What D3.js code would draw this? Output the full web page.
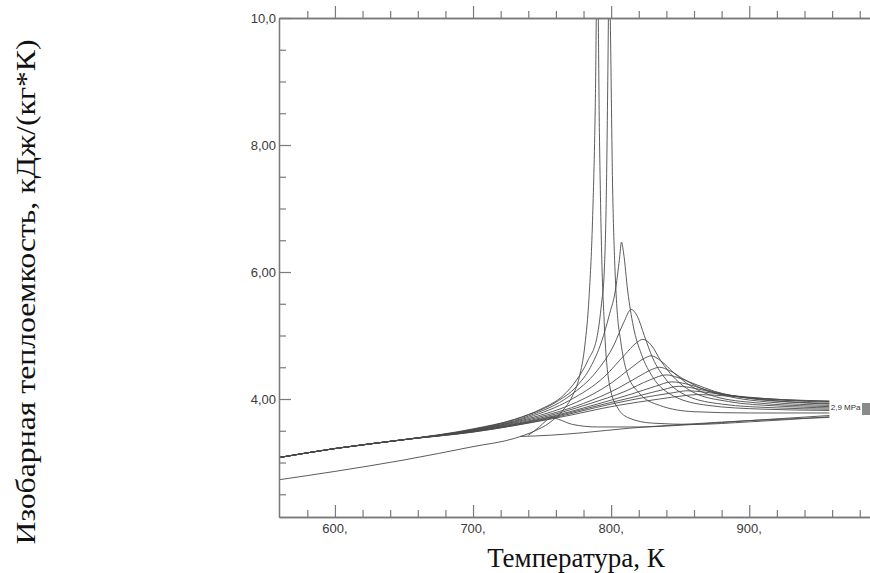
<!DOCTYPE html>
<html>
<head>
<meta charset="utf-8">
<script src="https://cdn.jsdelivr.net/npm/d3@7"></script>
<style>
  body { margin: 0; background: #fff; }
  .ticklabel { font-family: "Liberation Sans", Arial, sans-serif; font-size: 13px; fill: #3a3a3a; }
  .axistitle { font-family: "Liberation Serif", "Times New Roman", serif; font-size: 27px; fill: #111; }
  .curve { fill: none; stroke: #4a4a4a; stroke-width: 0.9px; }
</style>
</head>
<body>
<div id="chart"></div>
<script>
// axis ticks
const xMajor = [600, 700, 800, 900];
const xMajorLabels = ["600,", "700,", "800,", "900,"];
const yMajor = [4, 6, 8, 10];
const yMajorLabels = ["4,00", "6,00", "8,00", "10,0"];

// isobars: [T, K ; Cp, kJ/(kg*K)]
const curveLow = [[560,2.73],[600,2.86],[650,3.04],[700,3.25],[730,3.38],[745,3.5],[755,3.62],[765,3.82],[772,4.05],[777,4.35],[781,4.85],[784,5.6],[786.5,6.8],[788.5,8.6],[790,11],[791.5,8.2],[793,6.4],[795,5.2],[799,4.2],[805,3.85],[813,3.7],[830,3.62],[860,3.6],[900,3.64],[958,3.72]];
const curveFlat = [[734,3.41],[756,3.43],[780,3.47],[813,3.54],[860,3.61],[900,3.66],[958,3.71]];
const curveBump = [[740,3.43],[748,3.56],[753,3.66],[757,3.71],[762,3.68],[772,3.6],[790,3.56],[820,3.56],[860,3.6],[900,3.66],[958,3.74]];
const curve1 = [[560,3.08],[600,3.22],[650,3.36],[700,3.53],[730,3.68],[750,3.85],[765,4.05],[775,4.3],[783,4.6],[790,5.0],[793,5.5],[795,6.0],[796.5,7.2],[797.8,9.5],[798.5,11],[799.5,9.8],[801,7.4],[802.5,6.2],[804,5.5],[807,4.9],[811,4.45],[820,4.1],[835,3.9],[860,3.8],[900,3.78],[958,3.78]];
const curve2 = [[560,3.08],[600,3.22],[650,3.36],[700,3.52],[740,3.75],[760,3.95],[775,4.2],[785,4.5],[793,4.9],[799,5.35],[803,5.7],[806,6.2],[807.5,6.47],[809,6.3],[812,5.7],[816,5.15],[822,4.7],[830,4.35],[845,4.05],[870,3.9],[910,3.84],[958,3.82]];
const curve3 = [[560,3.08],[600,3.22],[650,3.36],[700,3.52],[740,3.73],[770,4.05],[790,4.45],[802,4.85],[809,5.2],[814.5,5.41],[819,5.3],[824,5.0],[830,4.65],[840,4.3],[855,4.05],[880,3.92],[920,3.86],[958,3.84]];
const curve4 = [[560,3.08],[600,3.22],[650,3.36],[700,3.51],[740,3.71],[770,3.98],[795,4.35],[810,4.7],[818,4.88],[823,4.94],[829,4.85],[836,4.6],[845,4.35],[860,4.1],[885,3.96],[920,3.89],[958,3.86]];
const curve5 = [[560,3.08],[600,3.22],[650,3.36],[700,3.51],[740,3.69],[775,3.95],[800,4.25],[815,4.5],[824,4.64],[829,4.68],[836,4.6],[845,4.42],[858,4.2],[875,4.04],[905,3.94],[958,3.88]];
const curve6 = [[560,3.08],[600,3.22],[650,3.36],[700,3.5],[745,3.7],[780,3.93],[805,4.17],[822,4.38],[830,4.47],[835,4.5],[842,4.45],[852,4.32],[865,4.17],[885,4.04],[915,3.95],[958,3.9]];
const curve7 = [[560,3.08],[600,3.22],[650,3.36],[700,3.5],[745,3.68],[785,3.93],[810,4.12],[828,4.3],[840,4.38],[848,4.34],[860,4.24],[875,4.12],[900,4.01],[930,3.95],[958,3.92]];
const curve8 = [[560,3.08],[600,3.22],[650,3.36],[700,3.49],[750,3.69],[790,3.92],[815,4.08],[832,4.2],[844,4.27],[854,4.24],[868,4.15],[885,4.06],[910,3.99],[958,3.93]];
const curve9 = [[560,3.08],[600,3.22],[650,3.36],[700,3.49],[750,3.68],[795,3.92],[820,4.05],[838,4.15],[849,4.2],[860,4.17],[875,4.1],[895,4.03],[925,3.98],[958,3.95]];
const curve10 = [[560,3.08],[600,3.22],[650,3.36],[700,3.48],[755,3.69],[800,3.92],[828,4.04],[845,4.1],[855,4.13],[867,4.11],[885,4.06],[910,4.01],[958,3.96]];
const curve11 = [[560,3.08],[600,3.22],[650,3.36],[700,3.48],[760,3.7],[805,3.9],[835,4.0],[852,4.05],[862,4.07],[875,4.06],[895,4.03],[925,3.99],[958,3.97]];

const curves = [curveLow, curveFlat, curveBump, curve1, curve2, curve3, curve4, curve5,
  curve6, curve7, curve8, curve9, curve10, curve11];

const curveLabel = "2,9 MPa";

const width = 870, height = 573;
const plot = {left: 279, right: 877, top: 18, bottom: 517};

let x = d3.scaleLinear().domain([559.5, 992.5]).range([plot.left, plot.right]);
let y = d3.scaleLinear().domain([2.142, 10]).range([plot.bottom, plot.top]);

let svg = d3.select("#chart").append("svg")
  .attr("width", width)
  .attr("height", height);

svg.append("defs").append("clipPath").attr("id", "clip")
  .append("rect")
  .attr("x", plot.left).attr("y", plot.top)
  .attr("width", plot.right - plot.left).attr("height", plot.bottom - plot.top);

// curves
let line = d3.line()
  .x(d => x(d[0]))
  .y(d => y(d[1]))
  .curve(d3.curveMonotoneX);

svg.append("g").attr("clip-path", "url(#clip)")
  .selectAll("path.curve")
  .data(curves)
  .enter().append("path")
  .attr("class", "curve")
  .attr("d", line);

// frame axes, ticks inward
const axisColor = "#7a7a7a";
const xMinor = d3.range(580, 992, 20).filter(v => xMajor.indexOf(v) < 0);
const yMinor = d3.range(2.5, 10, 0.5).filter(v => yMajor.indexOf(v) < 0);

function styleAxis(g) {
  g.select(".domain").attr("stroke", axisColor).attr("stroke-width", 1.3);
  g.selectAll(".tick line").attr("stroke", axisColor).attr("stroke-width", 1.2);
  g.selectAll(".tick text").remove();
}

[[d3.axisBottom, plot.bottom, -1], [d3.axisTop, plot.top, 1]].forEach(([ax, pos, s]) => {
  svg.append("g").attr("transform", `translate(0,${pos})`)
    .call(ax(x).tickValues(xMajor).tickSize(12 * s).tickSizeOuter(0)).call(styleAxis);
  svg.append("g").attr("transform", `translate(0,${pos})`)
    .call(ax(x).tickValues(xMinor).tickSize(7 * s).tickSizeOuter(0)).call(styleAxis);
});

[[d3.axisLeft, plot.left, -1], [d3.axisRight, plot.right, 1]].forEach(([ax, pos, s]) => {
  svg.append("g").attr("transform", `translate(${pos},0)`)
    .call(ax(y).tickValues(yMajor).tickSize(12 * s).tickSizeOuter(0)).call(styleAxis);
  svg.append("g").attr("transform", `translate(${pos},0)`)
    .call(ax(y).tickValues(yMinor).tickSize(7 * s).tickSizeOuter(0)).call(styleAxis);
});

// tick labels
svg.selectAll("text.xlab")
  .data(xMajor)
  .enter().append("text")
  .attr("class", "ticklabel")
  .attr("x", d => x(d))
  .attr("y", plot.bottom + 16)
  .attr("text-anchor", "middle")
  .text((d, i) => xMajorLabels[i]);

svg.selectAll("text.ylab")
  .data(yMajor)
  .enter().append("text")
  .attr("class", "ticklabel")
  .attr("x", plot.left - 3)
  .attr("y", d => y(d))
  .attr("dy", "0.35em")
  .attr("text-anchor", "end")
  .text((d, i) => yMajorLabels[i]);

// curve label at right end
svg.append("text")
  .attr("x", x(959))
  .attr("y", y(3.82))
  .style("font-family", "Liberation Sans, Arial, sans-serif")
  .style("font-size", "8px")
  .style("fill", "#333")
  .text(curveLabel);

svg.append("rect")
  .attr("x", 862).attr("y", 403)
  .attr("width", 8).attr("height", 12)
  .attr("fill", "#8a8a8a");

// axis titles
svg.append("text")
  .attr("class", "axistitle")
  .attr("x", 576)
  .attr("y", 567)
  .attr("text-anchor", "middle")
  .text("Температура, К");

svg.append("text")
  .attr("class", "axistitle")
  .attr("transform", "translate(35,292) rotate(-90)")
  .attr("text-anchor", "middle")
  .attr("textLength", 505)
  .attr("lengthAdjust", "spacingAndGlyphs")
  .text("Изобарная теплоемкость, кДж/(кг*К)");
</script>
</body>
</html>
